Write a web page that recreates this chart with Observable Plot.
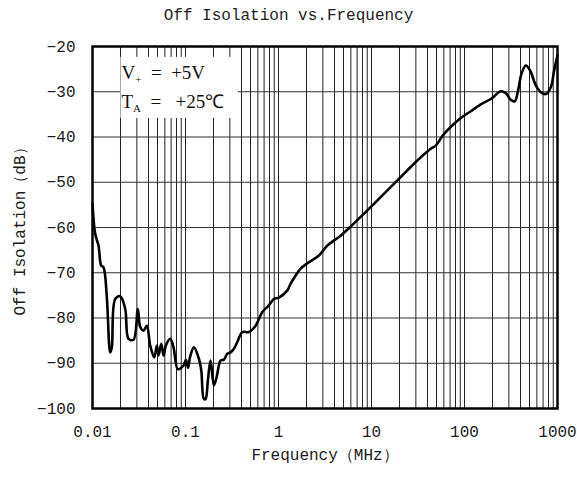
<!DOCTYPE html>
<html>
<head>
<meta charset="utf-8">
<script src="https://cdn.jsdelivr.net/npm/d3@7"></script>
<script src="https://cdn.jsdelivr.net/npm/@observablehq/plot@0.6"></script>
<style>
  body { margin: 0; background: #fff; }
  #title { width: 577px; height: 30px; line-height: 33px; text-align: center;
           font-family: "Liberation Mono", monospace; font-size: 16px; color: #222; }
</style>
</head>
<body>
<div id="title">Off Isolation vs.Frequency</div>
<div id="chart"></div>
<script>
// Frequency (MHz) and off isolation (dB)
const freq = [0.01, 0.01069, 0.0116, 0.0124, 0.01314, 0.01425, 0.0155, 0.01613, 0.01755, 0.01987,
  0.02248, 0.0244, 0.02762, 0.03073, 0.03261, 0.03538, 0.03839, 0.04176, 0.04612, 0.04918,
  0.05131, 0.05485, 0.05808, 0.06148, 0.06858, 0.07437, 0.08277, 0.09533, 0.1009, 0.1066,
  0.1114, 0.1231, 0.1393, 0.1478, 0.1576, 0.1644, 0.174, 0.186, 0.2019, 0.2159,
  0.2384, 0.2587, 0.2814, 0.3055, 0.3315, 0.3606, 0.4081, 0.4806, 0.5675, 0.6699,
  0.7889, 0.893, 1.011, 1.245, 1.351, 1.529, 1.73, 2.04, 2.719, 3.347,
  4.655, 5.964, 9.021, 12.54, 18.97, 28.62, 33.84, 43.29, 49.09, 60.29,
  84.02, 116.8, 149.7, 191.8, 245.7, 278, 314.8, 347.5, 377.2, 410.3,
  456.4, 507.7, 584.7, 662.1, 749.3, 847.8, 920.2, 1000];
const isolation = [-54.7, -61.4, -64, -68.4, -68.8, -75.4, -87.6, -86.5, -75.8, -75.2,
  -78, -84.6, -84.8, -78, -82, -82.8, -81.7, -86.1, -88.7, -86.1,
  -88.3, -85.7, -88.3, -86.1, -84.6, -86.5, -91.3, -90.5, -89.3, -91,
  -88.8, -86.5, -89, -91.6, -97.9, -97.9, -93.8, -89.4, -94.9, -93.1,
  -89.4, -89.2, -87.9, -87.6, -86.8, -85.3, -83.1, -83.1, -81.7, -78.7,
  -77.2, -75.8, -75.5, -73.9, -72.4, -70.6, -69.1, -67.9, -66.2, -64,
  -61.8, -59.8, -56.2, -53.3, -49.6, -45.9, -44.5, -42.6, -41.9, -39.3,
  -36.4, -34.3, -32.8, -31.6, -29.9, -30.3, -31.8, -32.1, -29.7, -26,
  -24.2, -25.3, -28.6, -30.1, -30.5, -29, -25.3, -22];

const xTicks = [0.01, 0.1, 1, 10, 100, 1000];
const yTicks = [-100, -90, -80, -70, -60, -50, -40, -30, -20];
const conditions = [["V", "+", "\u2002=\u2002+5V"], ["T", "A", "\u2002=\u2002\u00a0+25℃"]];
// annotation box extent in data units
const noteBox = {x1: 0.0202, x2: 0.37, y1: -35.9, y2: -22.4};

const data = freq.map((f, i) => ({f, db: isolation[i]}));
const xGrid = d3.scaleLog().domain([0.01, 1000]).ticks();

const chart = Plot.plot({
  width: 577,
  height: 447,
  marginTop: 16,
  marginBottom: 69,
  marginLeft: 92,
  marginRight: 20,
  style: {fontFamily: "Liberation Mono, monospace", fontSize: "16px", color: "#1a1a1a", background: "#fff"},
  x: {type: "log", domain: [0.01, 1000]},
  y: {domain: [-100, -20]},
  marks: [
    Plot.ruleX(xGrid, {stroke: "#222", strokeWidth: 1, strokeOpacity: 1}),
    Plot.ruleY(yTicks, {stroke: "#333", strokeWidth: 1.2}),
    Plot.rect([noteBox], {x1: "x1", x2: "x2", y1: "y1", y2: "y2", fill: "white"}),
    Plot.line(data, {x: "f", y: "db", stroke: "black", strokeWidth: 2.6, curve: "catmull-rom"}),
    Plot.frame({stroke: "black", strokeWidth: 2.5}),
    Plot.axisX(xTicks, {tickSize: 0, tickPadding: 17, tickFormat: d => String(d),
      label: "Frequency（MHz）", labelAnchor: "center", labelOffset: 51, labelArrow: "none"}),
    Plot.axisY(yTicks, {tickSize: 0, tickPadding: 17,
      label: "Off Isolation（dB）", labelAnchor: "center", labelOffset: 79, labelArrow: "none"})
  ]
});
document.getElementById("chart").appendChild(chart);

// condition annotation with subscripts
const sx = chart.scale("x"), sy = chart.scale("y");
const svg = d3.select(chart);
const ann = svg.append("g")
  .attr("font-family", "Liberation Serif, serif")
  .attr("font-size", 19)
  .attr("text-anchor", "start")
  .attr("fill", "#111");
const baseY = [-27.4, -33.8];
conditions.forEach((c, i) => {
  const t = ann.append("text")
    .attr("x", sx.apply(0.02) + 1.5)
    .attr("y", sy.apply(baseY[i]))
    .attr("text-anchor", "start")
    .style("white-space", "pre");
  t.append("tspan").text(c[0]);
  t.append("tspan").attr("font-size", 11).attr("dy", 4).text(c[1]);
  t.append("tspan").attr("dy", -4).text(c[2]);
});
</script>
</body>
</html>
